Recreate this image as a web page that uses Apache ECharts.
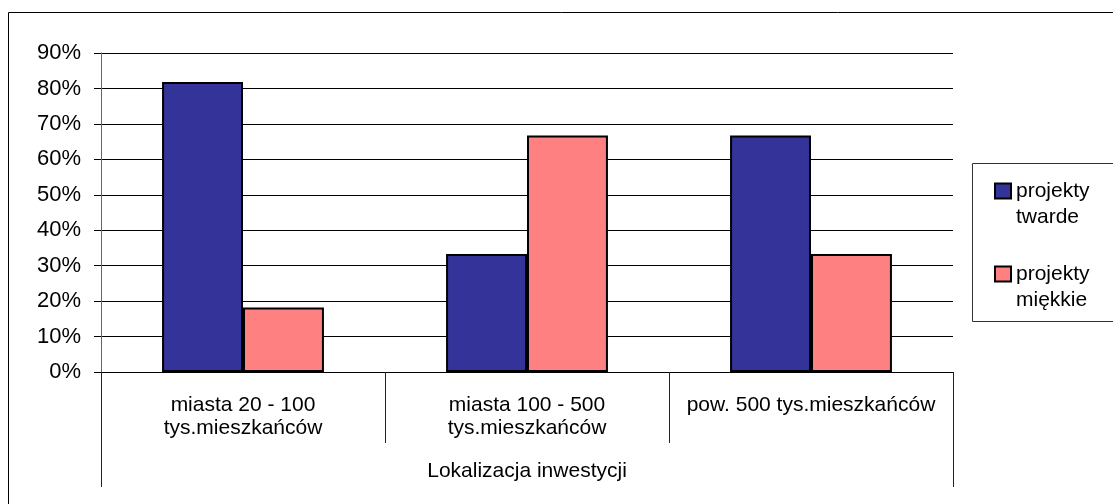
<!DOCTYPE html>
<html>
<head>
<meta charset="utf-8">
<script src="https://cdn.jsdelivr.net/npm/echarts@6/dist/echarts.min.js"></script>
<style>
html,body{margin:0;padding:0;background:#fff;}
#chart{width:1113px;height:504px;}
</style>
</head>
<body>
<div id="chart"></div>
<script>
const categories = ['miasta 20 - 100\ntys.mieszkańców', 'miasta 100 - 500\ntys.mieszkańców', 'pow. 500 tys.mieszkańców'];
const axisTitle = ['Lokalizacja inwestycji'];
const seriesNames = ['projekty\ntwarde', 'projekty\nmiękkie'];
const hardValues = [81.8, 33.3, 66.7];
const softValues = [18.2, 66.7, 33.3];
const yMin = 0, yMax = 90, yStep = 10;

const FONT = "'Liberation Sans', Arial, sans-serif";
// legend square sits beside the first text line
const legendIcon = 'path://M0,0 M0,52 M0,5.5 L16,5.5 L16,20.5 L0,20.5 Z';

const chart = echarts.init(document.getElementById('chart'), null, {renderer: 'canvas'});
chart.setOption({
  animation: false,
  backgroundColor: '#fff',
  textStyle: {fontFamily: FONT, color: '#000'},
  graphic: [
    {type: 'rect', shape: {x: 8.5, y: 12.5, width: 1200, height: 600}, style: {fill: 'none', stroke: '#000', lineWidth: 1}, silent: true, z: -10},
    {type: 'rect', shape: {x: 972.5, y: 163.5, width: 200, height: 158}, style: {fill: '#fff', stroke: '#333', lineWidth: 1}, silent: true, z: -5}
  ],
  grid: {left: 101, right: 160, top: 53, bottom: 132, containLabel: false},
  legend: {
    orient: 'vertical',
    left: 994,
    top: 177,
    padding: 0,
    itemWidth: 16,
    itemHeight: 52,
    itemGap: 29,
    icon: legendIcon,
    symbolKeepAspect: false,
    itemStyle: {borderColor: '#000', borderWidth: 2},
    textStyle: {fontFamily: FONT, fontSize: 21, color: '#000', lineHeight: 26},
    data: seriesNames
  },
  xAxis: [
    {
      type: 'category',
      data: categories,
      axisLine: {show: true, lineStyle: {color: '#000', width: 1}},
      axisTick: {show: true, length: 71, lineStyle: {color: '#222', width: 1}},
      axisLabel: {interval: 0, margin: 22, fontFamily: FONT, fontSize: 21, color: '#000', lineHeight: 23}
    },
    {
      type: 'category',
      data: axisTitle,
      position: 'bottom',
      axisLine: {show: false},
      axisTick: {show: true, length: 115, lineStyle: {color: '#222', width: 1}},
      axisLabel: {interval: 0, margin: 88, fontFamily: FONT, fontSize: 21, color: '#000', lineHeight: 23}
    }
  ],
  yAxis: {
    type: 'value',
    min: yMin, max: yMax, interval: yStep,
    axisLine: {show: true, lineStyle: {color: '#666', width: 1}},
    axisTick: {show: true, length: 7, lineStyle: {color: '#000'}},
    axisLabel: {formatter: '{value}%', margin: 20, fontFamily: FONT, fontSize: 22, color: '#000'},
    splitLine: {show: true, lineStyle: {color: '#000', width: 1}}
  },
  series: [
    {
      name: seriesNames[0], type: 'bar', data: hardValues, xAxisIndex: 0,
      barGap: '0%', barCategoryGap: '43%',
      itemStyle: {color: '#333399', borderColor: '#000', borderWidth: 2}
    },
    {
      name: seriesNames[1], type: 'bar', data: softValues, xAxisIndex: 0,
      barGap: '0%', barCategoryGap: '43%',
      itemStyle: {color: '#FF8080', borderColor: '#000', borderWidth: 2}
    }
  ]
});
</script>
</body>
</html>
